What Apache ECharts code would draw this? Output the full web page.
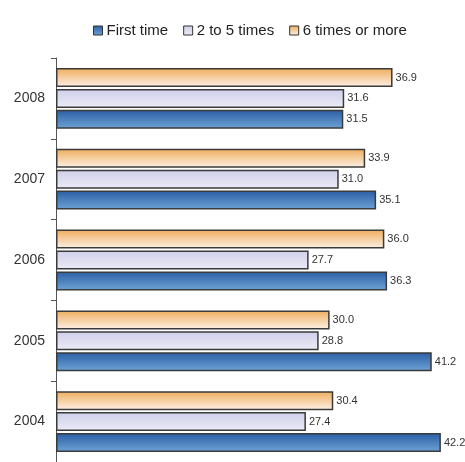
<!DOCTYPE html>
<html>
<head>
<meta charset="utf-8">
<script src="https://cdn.jsdelivr.net/npm/echarts@6/dist/echarts.min.js"></script>
<style>
  html, body { margin: 0; padding: 0; background: #fff; }
  #chart { width: 465px; height: 462px; }
</style>
</head>
<body>
<div id="chart"></div>
<script>
// Years, bottom to top
const years = ['2004', '2005', '2006', '2007', '2008'];
const seriesNames = ['First time', '2 to 5 times', '6 times or more'];
const firstTime = [42.2, 41.2, 36.3, 35.1, 31.5];
const twoToFive = [27.4, 28.8, 27.7, 31.0, 31.6];
const sixOrMore = [30.4, 30.0, 36.0, 33.9, 36.9];

function grad(top, bottom) {
  return new echarts.graphic.LinearGradient(0, 0, 0, 1, [
    { offset: 0, color: top },
    { offset: 1, color: bottom }
  ]);
}

const fills = [
  grad('#2a5ea4', '#6ea3d6'),
  grad('#cfcfe9', '#ecebf7'),
  grad('#eeac5c', '#fdf1e6')
];
const swatches = ['#3f74b6', '#dcdcf0', '#f6d2a2'];

function makeSeries(name, data, i) {
  return {
    name: name,
    type: 'bar',
    data: data,
    barWidth: 19,
    barGap: '10%',
    itemStyle: { color: fills[i], borderColor: '#3a3a3a', borderWidth: 1.5 },
    label: {
      show: true,
      position: 'right',
      distance: 3,
      color: '#333',
      fontSize: 11,
      fontFamily: 'Liberation Sans, Arial, sans-serif',
      formatter: p => p.value.toFixed(1)
    }
  };
}

const chart = echarts.init(document.getElementById('chart'), null, { renderer: 'canvas' });
chart.setOption({
  animation: false,
  color: swatches,
  legend: {
    top: 18,
    left: 88,
    itemWidth: 9,
    itemHeight: 9,
    itemGap: 15,
    icon: 'rect',
    itemStyle: { borderColor: '#333', borderWidth: 1 },
    textStyle: { fontSize: 15, color: '#222', fontFamily: 'Liberation Sans, Arial, sans-serif', padding: [0, 0, 0, -1] },
    data: seriesNames
  },
  grid: { left: 56, top: 58, bottom: 0, width: 401.3, containLabel: false },
  xAxis: {
    type: 'value',
    min: 0,
    max: 44,
    show: false
  },
  yAxis: {
    type: 'category',
    data: years,
    axisLine: { show: true, lineStyle: { color: '#555', width: 1 } },
    axisTick: { show: true, length: 5, lineStyle: { color: '#555' } },
    axisLabel: { fontSize: 14, color: '#333', margin: 11, fontFamily: 'Liberation Sans, Arial, sans-serif' }
  },
  // drawn top-to-bottom within each year: 6+ on top, first time at the bottom
  series: [
    makeSeries(seriesNames[2], sixOrMore, 2),
    makeSeries(seriesNames[1], twoToFive, 1),
    makeSeries(seriesNames[0], firstTime, 0)
  ]
});
</script>
</body>
</html>
